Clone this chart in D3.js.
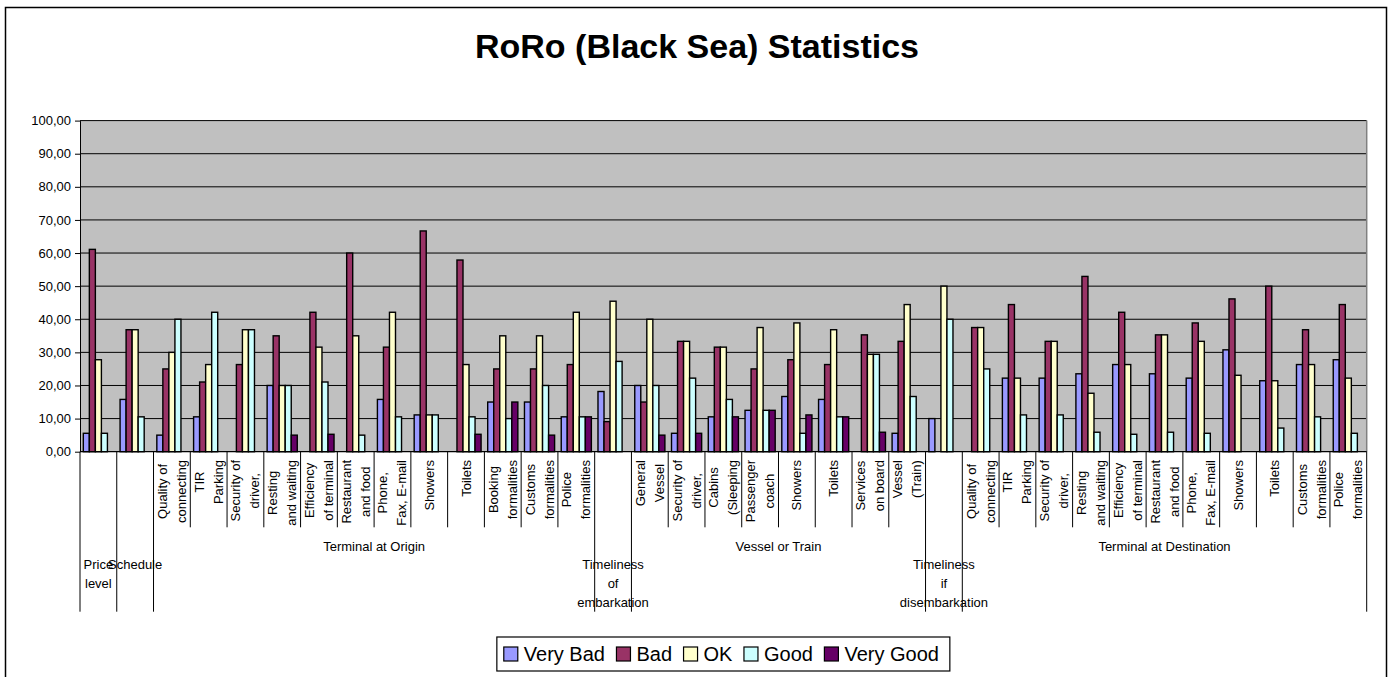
<!DOCTYPE html>
<html>
<head>
<meta charset="utf-8">
<script src="https://cdn.jsdelivr.net/npm/d3@7"></script>
<style>
  body { margin: 0; background: #ffffff; }
  text { font-family: Arial, "Liberation Sans", sans-serif; fill: #000; }
</style>
</head>
<body>
<svg id="chart" width="1394" height="677"></svg>
<script>
// ---- data -------------------------------------------------------------
// Inner category labels ("|" = line break); empty where the group itself is the category
const categories = [
  "", "",
  "Quality of|connecting", "TIR|Parking", "Security of|driver,", "Resting|and waiting",
  "Efficiency|of terminal", "Restaurant|and food", "Phone,|Fax, E-mail", "Showers",
  "Toilets", "Booking|formalities", "Customs|formalities", "Police|formalities",
  "",
  "General|Vessel", "Security of|driver,", "Cabins|(Sleeping", "Passenger|coach",
  "Showers", "Toilets", "Services|on board", "Vessel|(Train)",
  "",
  "Quality of|connecting", "TIR|Parking", "Security of|driver,", "Resting|and waiting",
  "Efficiency|of terminal", "Restaurant|and food", "Phone,|Fax, E-mail", "Showers",
  "Toilets", "Customs|formalities", "Police|formalities"
];

// Outer category level and the number of inner categories each spans
const groupNames  = ["Price|level", "Schedule", "Terminal at Origin", "Timeliness|of|embarkation",
                     "Vessel or Train", "Timeliness|if|disembarkation", "Terminal at Destination"];
const groupCounts = [1, 1, 12, 1, 8, 1, 11];

const seriesNames = ["Very Bad", "Bad", "OK", "Good", "Very Good"];

const veryBad  = [5.56, 15.79, 5, 10.53, null, 20, null, null, 15.79, 11.11, null, 15, 15, 10.53,
                  18.18, 20, 5.56, 10.53, 12.5, 16.67, 15.79, null, 5.56, 10,
                  null, 22.22, 22.22, 23.53, 26.32, 23.53, 22.22, 30.77, 21.43, 26.32, 27.78];
const bad      = [61.11, 36.84, 25, 21.05, 26.32, 35, 42.11, 60, 31.58, 66.67, 57.89, 25, 25, 26.32,
                  9.09, 15, 33.33, 31.58, 25, 27.78, 26.32, 35.29, 33.33, null,
                  37.5, 44.44, 33.33, 52.94, 42.11, 35.29, 38.89, 46.15, 50, 36.84, 44.44];
const ok       = [27.78, 36.84, 30, 26.32, 36.84, 20, 31.58, 35, 42.11, 11.11, 26.32, 35, 35, 42.11,
                  45.45, 40, 33.33, 31.58, 37.5, 38.89, 36.84, 29.41, 44.44, 50,
                  37.5, 22.22, 33.33, 17.65, 26.32, 35.29, 33.33, 23.08, 21.43, 26.32, 22.22];
const good     = [5.56, 10.53, 40, 42.11, 36.84, 20, 21.05, 5, 10.53, 11.11, 10.53, 10, 20, 10.53,
                  27.27, 20, 22.22, 15.79, 12.5, 5.56, 10.53, 29.41, 16.67, 40,
                  25, 11.11, 11.11, 5.88, 5.26, 5.88, 5.56, null, 7.14, 10.53, 5.56];
const veryGood = [null, null, null, null, null, 5, 5.26, null, null, null, 5.26, 15, 5, 10.53,
                  null, 5, 5.56, 10.53, 12.5, 11.11, 10.53, 5.88, null, null,
                  null, null, null, null, null, null, null, null, null, null, null];

const yTickValues = [0, 10, 20, 30, 40, 50, 60, 70, 80, 90, 100];

// ---- styling ------------------------------------------------------------
const seriesColors = ["#9999FF", "#993366", "#FFFFCC", "#CCFFFF", "#660066"];
const seriesData = [veryBad, bad, ok, good, veryGood];

const svg = d3.select("#chart");
const plot = { left: 80, right: 1366.7, top: 120.6, bottom: 451.7 };

// chart area frame
svg.append("rect")
  .attr("x", 5.5).attr("y", 7.5)
  .attr("width", 1381).attr("height", 690)
  .attr("fill", "#fff").attr("stroke", "#000").attr("stroke-width", 1.5);

// title
svg.append("text")
  .attr("x", 697).attr("y", 58)
  .attr("text-anchor", "middle")
  .style("font-size", "34px").style("font-weight", "bold")
  .text("RoRo (Black Sea) Statistics");

// ---- scales -------------------------------------------------------------
const x0 = d3.scaleBand()
  .domain(d3.range(categories.length))
  .range([plot.left, plot.right])
  .paddingInner(0.18).paddingOuter(0.09);

const x1 = d3.scaleBand()
  .domain(d3.range(seriesNames.length))
  .range([0, x0.bandwidth()]);

const y = d3.scaleLinear().domain([0, 100]).range([plot.bottom, plot.top]);

const boundary = i => x0(0) - x0.step() * x0.paddingOuter() + i * x0.step();

// plot background
svg.append("rect")
  .attr("x", plot.left).attr("y", plot.top)
  .attr("width", plot.right - plot.left).attr("height", plot.bottom - plot.top)
  .attr("fill", "#C0C0C0");

// gridlines
svg.append("g").selectAll("line")
  .data(yTickValues.filter(v => v > 0))
  .join("line")
  .attr("x1", plot.left).attr("x2", plot.right)
  .attr("y1", d => y(d)).attr("y2", d => y(d))
  .attr("stroke", "#000").attr("stroke-width", 1);

// plot right border
svg.append("line")
  .attr("x1", plot.right).attr("x2", plot.right)
  .attr("y1", plot.top).attr("y2", plot.bottom)
  .attr("stroke", "#808080").attr("stroke-width", 1.5);

// ---- bars ---------------------------------------------------------------
const barData = [];
seriesData.forEach((arr, s) => arr.forEach((v, i) => {
  if (v != null) barData.push({ i, s, v });
}));

svg.append("g").selectAll("rect")
  .data(barData)
  .join("rect")
  .attr("x", d => x0(d.i) + x1(d.s))
  .attr("y", d => y(d.v))
  .attr("width", x1.bandwidth())
  .attr("height", d => y(0) - y(d.v))
  .attr("fill", d => seriesColors[d.s])
  .attr("stroke", "#000").attr("stroke-width", 1.4);

// ---- y axis -------------------------------------------------------------
const fmt = d3.format(".2f");
const yAxis = svg.append("g")
  .attr("transform", `translate(${plot.left},0)`)
  .call(d3.axisLeft(y).tickValues(yTickValues).tickSize(5).tickSizeOuter(0)
    .tickFormat(d => fmt(d).replace(".", ",")));
yAxis.selectAll("path, line").attr("stroke", "#000");
yAxis.selectAll("text").style("font-size", "13px").attr("x", -9);

// ---- multi-level category axis -----------------------------------------
const xAxis = svg.append("g");
xAxis.append("line")
  .attr("x1", plot.left).attr("x2", plot.right)
  .attr("y1", plot.bottom).attr("y2", plot.bottom)
  .attr("stroke", "#000").attr("stroke-width", 1.2);

const innerBottom = 527.3, outerBottom = 611.7;
const groupStarts = [0];
groupCounts.forEach((c, k) => groupStarts.push(groupStarts[k] + c));

// separators between inner categories
d3.range(categories.length + 1).forEach(i => {
  const isGroupEdge = groupStarts.includes(i);
  xAxis.append("line")
    .attr("x1", boundary(i)).attr("x2", boundary(i))
    .attr("y1", plot.bottom).attr("y2", isGroupEdge ? outerBottom : innerBottom)
    .attr("stroke", "#000").attr("stroke-width", 1);
});

// inner labels: rotated, lines stacked across the cell
const lineGap = 19;
categories.forEach((lab, i) => {
  if (!lab) return;
  const lines = lab.split("|");
  const cx = x0(i) + x0.bandwidth() / 2;
  const g = xAxis.append("g");
  const texts = lines.map(ln => g.append("text")
    .style("font-size", "13px")
    .attr("text-anchor", "middle")
    .attr("dominant-baseline", "central")
    .text(ln));
  const L = d3.max(texts, t => t.node().getComputedTextLength());
  const cy = 460 + L / 2;
  texts.forEach((t, k) => {
    const lx = cx + (k - (lines.length - 1) / 2) * lineGap;
    t.attr("transform", `translate(${lx},${cy}) rotate(-90)`);
  });
});

// outer group labels
groupNames.forEach((name, k) => {
  const a = boundary(groupStarts[k]), b = boundary(groupStarts[k + 1]);
  const lines = name.split("|");
  const top = groupCounts[k] > 1 ? 546 : 564;
  lines.forEach((ln, j) => {
    xAxis.append("text")
      .attr("x", (a + b) / 2).attr("y", top + j * 19)
      .attr("text-anchor", "middle")
      .attr("dominant-baseline", "central")
      .style("font-size", "13px")
      .text(ln);
  });
});

// ---- legend -------------------------------------------------------------
const legend = svg.append("g");
const box = legend.append("rect")
  .attr("fill", "#fff").attr("stroke", "#000").attr("stroke-width", 1.2);
let cursor = 0;
const items = legend.append("g");
seriesNames.forEach((name, s) => {
  const it = items.append("g").attr("transform", `translate(${cursor},0)`);
  it.append("rect")
    .attr("x", 0).attr("y", -7).attr("width", 14).attr("height", 14)
    .attr("fill", seriesColors[s]).attr("stroke", "#000").attr("stroke-width", 1.2);
  const t = it.append("text")
    .attr("x", 20).attr("y", 0)
    .attr("dominant-baseline", "central")
    .style("font-size", "20px")
    .text(name);
  cursor += 20 + t.node().getComputedTextLength() + 11.5;
});
const itemsW = cursor - 11.5;
const boxW = 453, boxH = 34;
const boxX = (plot.left + plot.right) / 2 - boxW / 2, boxY = 637;
box.attr("x", boxX).attr("y", boxY).attr("width", boxW).attr("height", boxH);
items.attr("transform", `translate(${boxX + (boxW - itemsW) / 2 - 2},${boxY + boxH / 2})`);
</script>
</body>
</html>
